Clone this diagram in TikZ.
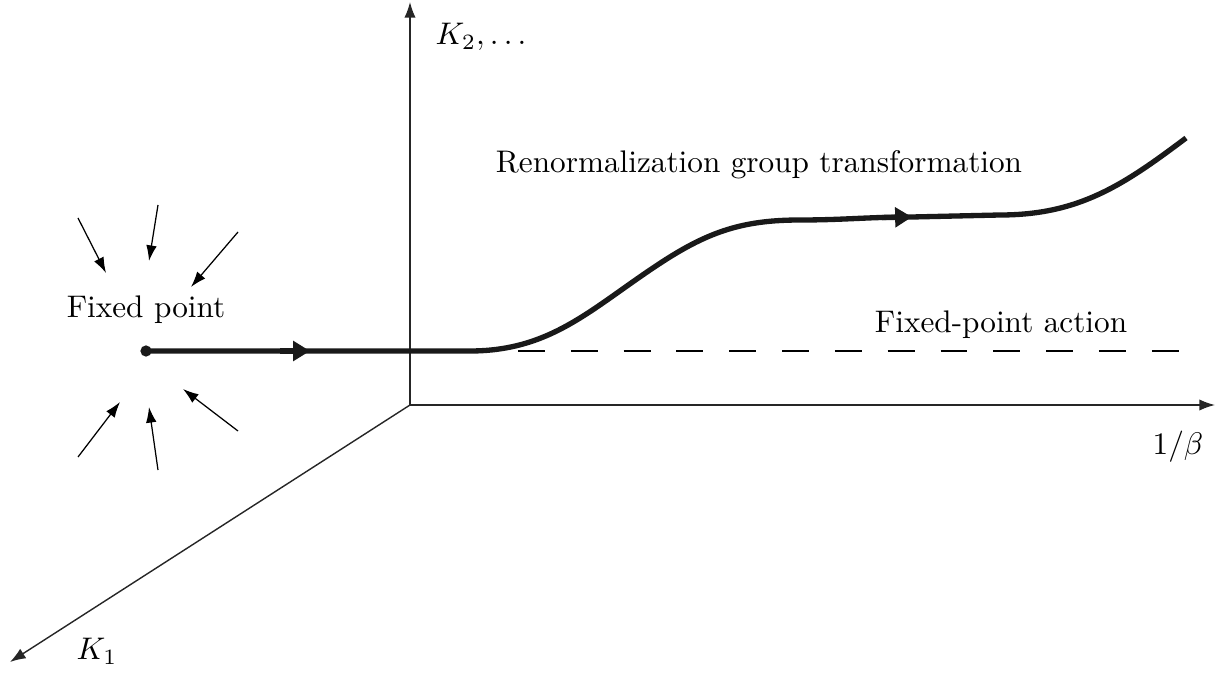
\documentclass[tikz,border=0pt]{standalone}
\usepackage{amsmath,amssymb}
\usepackage{tikz}
\usetikzlibrary{arrows.meta,positioning,calc}
\tikzset{
  axis/.style    = {-{Latex[length=5pt,width=3.6pt]}, line width=0.45pt, draw=black!85},
  flow/.style    = {line width=1.7pt, draw=black!90},
  flowarr/.style = {flow, -{Triangle[length=5.4pt,width=6.2pt]}},
  sarr/.style    = {-{Latex[length=5pt,width=3.4pt]}, line width=0.4pt},
  fpdash/.style  = {line width=0.4pt, dash pattern=on 8.6pt off 8.3pt},
  lbl/.style     = {inner sep=0pt, font=\normalsize},
}

\begin{document}
\begin{tikzpicture}[x=0.32pt, y=-0.32pt, >=Latex]
\useasboundingbox (0,0) rectangle (1226,679);

%% ── Axes ──────────────────────────────────────────────────
\coordinate (O)    at (410,405);
\coordinate (ytop) at (410,2);
\coordinate (xend) at (1215,405);
\coordinate (zend) at (10,662);
\draw[axis] (O) -- (ytop);
\draw[axis] (O) -- (xend);
\draw[axis] (O) -- (zend);

\node[lbl] (k2)   at (481,37)  {$K_2,\ldots$};
\node[lbl] (beta) at (1178,447) {$1/\beta$};
\node[lbl] (k1)   at (97,651)  {$K_1$};

%% ── Labels ────────────────────────────────────────────────
\node[lbl] (fplbl)  at (146,310) {Fixed point};
\node[lbl] (rglbl)  at (759,165) {Renormalization group transformation};
\node[lbl] (fpalbl) at (1001,325) {Fixed-point action};

%% ── Fixed point and flow ──────────────────────────────────
\node[circle, fill=black!90, inner sep=0pt, minimum size=3.6pt] (fp) at (146,351) {};
\coordinate (m1)   at (310,351);
\coordinate (bend) at (470,351);
\coordinate (m2)   at (912,217);
\coordinate (flat) at (1000,215);
\coordinate (fend) at (1186,138);

\draw[flow] (fp.center) -- (bend) to[out=0, in=213] (662,262)
  to[out=33, in=180] (800,220) to[out=0, in=180] (m2)
  -- (flat) to[out=0, in=217] (fend);
\draw[flowarr] ($(m1)+(-30,0)$) -- (m1);
\draw[flowarr] ($(m2)+(-30,0.6)$) -- (m2);

%% ── Fixed-point action ────────────────────────────────────
\coordinate (ds) at (518,351);
\coordinate (de) at (1186,351);
\draw[fpdash] (ds) -- (de);

%% ── Flow towards the fixed point ──────────────────────────
\draw[sarr] (78,218)  -- (106,273);
\draw[sarr] (158,205) -- (149,261);
\draw[sarr] (238,232) -- (191,287);
\draw[sarr] (78,457)  -- (120,402);
\draw[sarr] (158,470) -- (149,407);
\draw[sarr] (238,431) -- (183,389);

\end{tikzpicture}
\end{document}
